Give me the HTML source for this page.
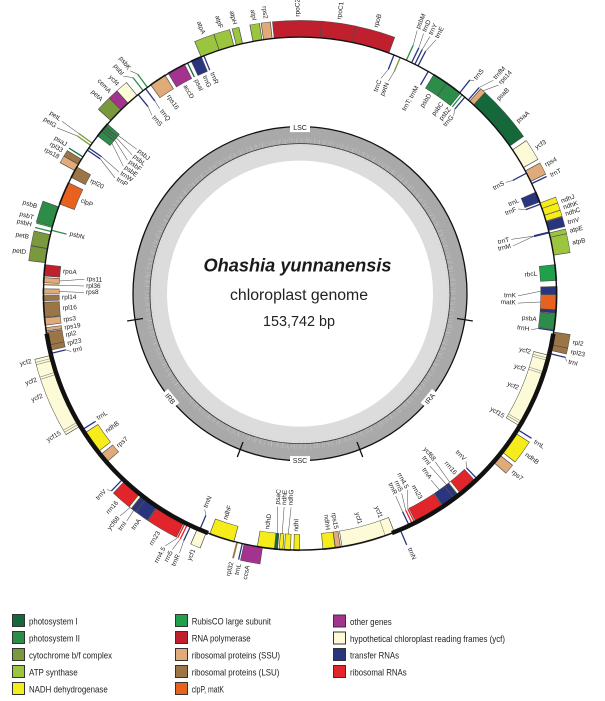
<!DOCTYPE html>
<html><head><meta charset="utf-8"><title>Ohashia yunnanensis chloroplast genome</title>
<style>
html,body{margin:0;padding:0;background:#fff;overflow:hidden}
svg{display:block}
.b{fill:none;stroke-width:16}
.u{fill:none;stroke:#4d4d4d;stroke-width:17}
.A{stroke:#14683a}.B{stroke:#2b8d47}.C{stroke:#7a983c}.D{stroke:#9bc43f}.E{stroke:#f7ec1b}.F{stroke:#20a04b}.G{stroke:#c0202e}.H{stroke:#e0ab78}.I{stroke:#9b7545}.J{stroke:#e8621f}.K{stroke:#a3338f}.L{stroke:#fdfbd7}.M{stroke:#2a3580}.N{stroke:#e2242b}
.fA{fill:#14683a}.fB{fill:#2b8d47}.fC{fill:#7a983c}.fD{fill:#9bc43f}.fE{fill:#f7ec1b}.fI{fill:#9b7545}.fM{fill:#2a3580}.fN{fill:#e2242b}
.ld{fill:none;stroke:#444;stroke-width:.5}
.t text{font-family:"Liberation Sans",Arial,sans-serif;font-size:6.5px;fill:#222;dominant-baseline:central}
.ro,.li{text-anchor:start}.ri,.lo{text-anchor:end}
.dv{fill:#8a8a8a}
</style></head><body>
<svg width="605" height="701" viewBox="0 0 605 701" xmlns="http://www.w3.org/2000/svg">
<rect width="605" height="701" fill="#fff"/>
<g transform="translate(300,293.6)">
<!-- GC content ring -->
<circle r="158.5" fill="none" stroke="#a9a9a9" stroke-width="17"/>
<circle r="141.5" fill="none" stroke="#dcdcdc" stroke-width="17"/>
<circle r="152.5" fill="none" stroke="#c2c2c2" stroke-width="5" stroke-dasharray="0.5 2.4 0.3 1.6 0.8 3.1 0.4 1.2 0.6 2.8 0.3 1.9 0.9 2.2 0.4 3.5"/>
<circle r="155" fill="none" stroke="#b8b8b8" stroke-width="3" stroke-dasharray="0.4 4.1 0.6 3.3 0.3 5.1 0.7 2.7"/>
<circle r="148.5" fill="none" stroke="#cdcdcd" stroke-width="3" stroke-dasharray="0.4 3.8 0.6 2.9 0.3 4.6 0.5 3.3"/>
<circle r="167" fill="none" stroke="#111" stroke-width="1.3"/>
<circle r="150" fill="none" stroke="#333" stroke-width="0.8"/>
<g stroke="#111" stroke-width="1.3">
<line x1="0" y1="-159" x2="0" y2="-175" transform="rotate(99)"/>
<line x1="0" y1="-159" x2="0" y2="-175" transform="rotate(159)"/>
<line x1="0" y1="-159" x2="0" y2="-175" transform="rotate(201)"/>
<line x1="0" y1="-159" x2="0" y2="-175" transform="rotate(261)"/>
</g>
<g font-family="Liberation Sans,Arial,sans-serif" font-size="7" fill="#222" text-anchor="middle">
<g transform="translate(0,-166)"><rect x="-10" y="-4.5" width="20" height="9" fill="#fff"/><text y="2.5">LSC</text></g>
<g transform="rotate(129) translate(0,-167) rotate(180)"><rect x="-9" y="-4.5" width="18" height="9" fill="#fff"/><text y="2.5">IRA</text></g>
<g transform="rotate(180) translate(0,-167) rotate(180)"><rect x="-10" y="-4.5" width="20" height="9" fill="#fff"/><text y="2.5">SSC</text></g>
<g transform="rotate(231) translate(0,-167) rotate(180)"><rect x="-9" y="-4.5" width="18" height="9" fill="#fff"/><text y="2.5">IRB</text></g>
</g>

<!-- OUTER GENE BLOCKS (r 257-273) -->
<circle class="u" r="265" stroke-dasharray="15.27 2000" transform="rotate(186.85)"/><circle class="b C" r="265" stroke-dasharray="13.88 2000" transform="rotate(187)"/>
<circle class="u" r="265" stroke-dasharray="15.27 2000" transform="rotate(190.05)"/><circle class="b C" r="265" stroke-dasharray="13.88 2000" transform="rotate(190.2)"/>
<circle class="u" r="265" stroke-dasharray="21.74 2000" transform="rotate(195.15)"/><circle class="b B" r="265" stroke-dasharray="20.35 2000" transform="rotate(195.3)"/>
<circle class="u" r="265" stroke-dasharray="8.33 2000" transform="rotate(208.55)"/><circle class="b H" r="265" stroke-dasharray="6.94 2000" transform="rotate(208.7)"/>
<circle class="u" r="265" stroke-dasharray="6.94 2000" transform="rotate(210.15)"/><circle class="b I" r="265" stroke-dasharray="5.55 2000" transform="rotate(210.3)"/>
<circle class="u" r="265" stroke-dasharray="16.19 2000" transform="rotate(222.35)"/><circle class="b C" r="265" stroke-dasharray="14.80 2000" transform="rotate(222.5)"/>
<circle class="u" r="265" stroke-dasharray="10.64 2000" transform="rotate(225.65)"/><circle class="b K" r="265" stroke-dasharray="9.25 2000" transform="rotate(225.8)"/>
<circle class="u" r="265" stroke-dasharray="12.95 2000" transform="rotate(227.85)"/><circle class="b L" r="265" stroke-dasharray="11.56 2000" transform="rotate(228)"/>
<circle class="u" r="265" stroke-dasharray="20.82 2000" transform="rotate(247.25)"/><circle class="b D" r="265" stroke-dasharray="19.43 2000" transform="rotate(247.4)"/>
<circle class="u" r="265" stroke-dasharray="16.65 2000" transform="rotate(251.55)"/><circle class="b D" r="265" stroke-dasharray="15.26 2000" transform="rotate(251.7)"/>
<circle class="u" r="265" stroke-dasharray="7.40 2000" transform="rotate(255.55)"/><circle class="b D" r="265" stroke-dasharray="6.01 2000" transform="rotate(255.7)"/>
<circle class="u" r="265" stroke-dasharray="10.18 2000" transform="rotate(259.35)"/><circle class="b D" r="265" stroke-dasharray="8.79 2000" transform="rotate(259.5)"/>
<circle class="u" r="265" stroke-dasharray="9.72 2000" transform="rotate(261.75)"/><circle class="b H" r="265" stroke-dasharray="8.33 2000" transform="rotate(261.9)"/>
<circle class="u" r="265" stroke-dasharray="48.57 2000" transform="rotate(264.15)"/><circle class="b G" r="265" stroke-dasharray="47.18 2000" transform="rotate(264.3)"/>
<circle class="u" r="265" stroke-dasharray="34.23 2000" transform="rotate(-85.55)"/><circle class="b G" r="265" stroke-dasharray="32.84 2000" transform="rotate(-85.4)"/>
<circle class="u" r="265" stroke-dasharray="40.24 2000" transform="rotate(-78.35)"/><circle class="b G" r="265" stroke-dasharray="38.85 2000" transform="rotate(-78.2)"/>
<circle class="u" r="265" stroke-dasharray="6.48 2000" transform="rotate(-48.65)"/><circle class="b H" r="265" stroke-dasharray="5.09 2000" transform="rotate(-48.5)"/>
<circle class="u" r="265" stroke-dasharray="28.22 2000" transform="rotate(-47.45)"/><circle class="b A" r="265" stroke-dasharray="26.83 2000" transform="rotate(-47.3)"/>
<circle class="u" r="265" stroke-dasharray="30.07 2000" transform="rotate(-41.55)"/><circle class="b A" r="265" stroke-dasharray="28.68 2000" transform="rotate(-41.4)"/>
<circle class="u" r="265" stroke-dasharray="22.2 2000" transform="rotate(-34.15)"/><circle class="b L" r="265" stroke-dasharray="20.81 2000" transform="rotate(-34)"/>
<circle class="u" r="265" stroke-dasharray="12.95 2000" transform="rotate(-28.65)"/><circle class="b H" r="265" stroke-dasharray="11.56 2000" transform="rotate(-28.5)"/>
<circle class="u" r="265" stroke-dasharray="6.94 2000" transform="rotate(-20.75)"/><circle class="b E" r="265" stroke-dasharray="5.55 2000" transform="rotate(-20.6)"/>
<circle class="u" r="265" stroke-dasharray="8.33 2000" transform="rotate(-19.45)"/><circle class="b E" r="265" stroke-dasharray="6.94 2000" transform="rotate(-19.3)"/>
<circle class="u" r="265" stroke-dasharray="6.94 2000" transform="rotate(-17.85)"/><circle class="b E" r="265" stroke-dasharray="5.55 2000" transform="rotate(-17.7)"/>
<circle class="u" r="265" stroke-dasharray="10.18 2000" transform="rotate(-16.35)"/><circle class="b M" r="265" stroke-dasharray="8.79 2000" transform="rotate(-16.2)"/>
<circle class="u" r="265" stroke-dasharray="5.55 2000" transform="rotate(-13.75)"/><circle class="b D" r="265" stroke-dasharray="4.16 2000" transform="rotate(-13.6)"/>
<circle class="u" r="265" stroke-dasharray="19.43 2000" transform="rotate(-12.75)"/><circle class="b D" r="265" stroke-dasharray="18.04 2000" transform="rotate(-12.6)"/>
<circle class="u" r="265" stroke-dasharray="14.34 2000" transform="rotate(8.55)"/><circle class="b I" r="265" stroke-dasharray="12.95 2000" transform="rotate(8.7)"/>
<circle class="u" r="265" stroke-dasharray="6.48 2000" transform="rotate(11.45)"/><circle class="b I" r="265" stroke-dasharray="5.09 2000" transform="rotate(11.6)"/>
<circle class="u" r="265" stroke-dasharray="24.52 2000" transform="rotate(32.85)"/><circle class="b E" r="265" stroke-dasharray="23.13 2000" transform="rotate(33)"/>
<circle class="u" r="265" stroke-dasharray="10.64 2000" transform="rotate(38.85)"/><circle class="b H" r="265" stroke-dasharray="9.25 2000" transform="rotate(39)"/>
<circle class="u" r="265" stroke-dasharray="19.89 2000" transform="rotate(98.35)"/><circle class="b K" r="265" stroke-dasharray="18.50 2000" transform="rotate(98.5)"/>
<circle class="u" r="265" stroke-dasharray="10.64 2000" transform="rotate(111.35)"/><circle class="b L" r="265" stroke-dasharray="9.25 2000" transform="rotate(111.5)"/>
<circle class="u" r="265" stroke-dasharray="32.38 2000" transform="rotate(116.85)"/><circle class="b N" r="265" stroke-dasharray="30.99 2000" transform="rotate(117)"/>
<circle class="u" r="265" stroke-dasharray="14.34 2000" transform="rotate(123.85)"/><circle class="b M" r="265" stroke-dasharray="12.95 2000" transform="rotate(124)"/>
<circle class="u" r="265" stroke-dasharray="6.02 2000" transform="rotate(126.85)"/><circle class="b M" r="265" stroke-dasharray="4.63 2000" transform="rotate(127)"/>
<circle class="u" r="265" stroke-dasharray="3.7 2000" transform="rotate(128.05)"/><circle class="b L" r="265" stroke-dasharray="2.31 2000" transform="rotate(128.2)"/>
<circle class="u" r="265" stroke-dasharray="20.82 2000" transform="rotate(128.65)"/><circle class="b N" r="265" stroke-dasharray="19.43 2000" transform="rotate(128.8)"/>
<circle class="u" r="265" stroke-dasharray="80.02 2000" transform="rotate(148.85)"/><circle class="b L" r="265" stroke-dasharray="78.63 2000" transform="rotate(149)"/>

<!-- INNER GENE BLOCKS (r 241-257) -->
<circle class="u" r="249" stroke-dasharray="23.03 2000" transform="rotate(200.35)"/><circle class="b J" r="249" stroke-dasharray="21.73 2000" transform="rotate(200.5)"/>
<circle class="u" r="249" stroke-dasharray="12.16 2000" transform="rotate(206.85)"/><circle class="b I" r="249" stroke-dasharray="10.86 2000" transform="rotate(207)"/>
<circle class="u" r="249" stroke-dasharray="6.95 2000" transform="rotate(217.85)"/><circle class="b B" r="249" stroke-dasharray="5.65 2000" transform="rotate(218)"/>
<circle class="u" r="249" stroke-dasharray="3.04 2000" transform="rotate(219.35)"/><circle class="b B" r="249" stroke-dasharray="1.74 2000" transform="rotate(219.5)"/>
<circle class="u" r="249" stroke-dasharray="3.04 2000" transform="rotate(219.95)"/><circle class="b B" r="249" stroke-dasharray="1.74 2000" transform="rotate(220.1)"/>
<circle class="u" r="249" stroke-dasharray="3.91 2000" transform="rotate(220.55)"/><circle class="b B" r="249" stroke-dasharray="2.61 2000" transform="rotate(220.7)"/>
<circle class="u" r="249" stroke-dasharray="17.38 2000" transform="rotate(234.35)"/><circle class="b H" r="249" stroke-dasharray="16.08 2000" transform="rotate(234.5)"/>
<circle class="u" r="249" stroke-dasharray="18.68 2000" transform="rotate(239.05)"/><circle class="b K" r="249" stroke-dasharray="17.38 2000" transform="rotate(239.2)"/>
<circle class="u" r="249" stroke-dasharray="11.3 2000" transform="rotate(244.85)"/><circle class="b M" r="249" stroke-dasharray="10.0 2000" transform="rotate(245)"/>
<circle class="u" r="249" stroke-dasharray="15.64 2000" transform="rotate(-58.65)"/><circle class="b B" r="249" stroke-dasharray="14.34 2000" transform="rotate(-58.5)"/>
<circle class="u" r="249" stroke-dasharray="17.38 2000" transform="rotate(-55.25)"/><circle class="b B" r="249" stroke-dasharray="16.08 2000" transform="rotate(-55.1)"/>
<circle class="u" r="249" stroke-dasharray="10.86 2000" transform="rotate(-23.35)"/><circle class="b M" r="249" stroke-dasharray="9.56 2000" transform="rotate(-23.2)"/>
<circle class="u" r="249" stroke-dasharray="16.08 2000" transform="rotate(-6.55)"/><circle class="b F" r="249" stroke-dasharray="14.78 2000" transform="rotate(-6.4)"/>
<circle class="u" r="249" stroke-dasharray="9.12 2000" transform="rotate(-1.65)"/><circle class="b M" r="249" stroke-dasharray="7.82 2000" transform="rotate(-1.5)"/>
<circle class="u" r="249" stroke-dasharray="16.08 2000" transform="rotate(0.15)"/><circle class="b J" r="249" stroke-dasharray="14.78 2000" transform="rotate(0.3)"/>
<circle class="u" r="249" stroke-dasharray="3.91 2000" transform="rotate(3.55)"/><circle class="b M" r="249" stroke-dasharray="2.61 2000" transform="rotate(3.7)"/>
<circle class="u" r="249" stroke-dasharray="16.08 2000" transform="rotate(4.45)"/><circle class="b B" r="249" stroke-dasharray="14.78 2000" transform="rotate(4.6)"/>
<circle class="u" r="249" stroke-dasharray="75.18 2000" transform="rotate(13.85)"/><circle class="b L" r="249" stroke-dasharray="73.88 2000" transform="rotate(14)"/>
<circle class="u" r="249" stroke-dasharray="19.99 2000" transform="rotate(46.85)"/><circle class="b N" r="249" stroke-dasharray="18.69 2000" transform="rotate(47)"/>
<circle class="u" r="249" stroke-dasharray="3.47 2000" transform="rotate(51.15)"/><circle class="b L" r="249" stroke-dasharray="2.17 2000" transform="rotate(51.3)"/>
<circle class="u" r="249" stroke-dasharray="5.65 2000" transform="rotate(51.85)"/><circle class="b M" r="249" stroke-dasharray="4.35 2000" transform="rotate(52)"/>
<circle class="u" r="249" stroke-dasharray="13.47 2000" transform="rotate(53.05)"/><circle class="b M" r="249" stroke-dasharray="12.17 2000" transform="rotate(53.2)"/>
<circle class="u" r="249" stroke-dasharray="30.42 2000" transform="rotate(56.15)"/><circle class="b N" r="249" stroke-dasharray="29.12 2000" transform="rotate(56.3)"/>
<circle class="u" r="249" stroke-dasharray="53.45 2000" transform="rotate(68.35)"/><circle class="b L" r="249" stroke-dasharray="52.15 2000" transform="rotate(68.5)"/>
<circle class="u" r="249" stroke-dasharray="5.65 2000" transform="rotate(80.85)"/><circle class="b H" r="249" stroke-dasharray="4.35 2000" transform="rotate(81)"/>
<circle class="u" r="249" stroke-dasharray="12.6 2000" transform="rotate(82.05)"/><circle class="b E" r="249" stroke-dasharray="11.30 2000" transform="rotate(82.2)"/>
<circle class="u" r="249" stroke-dasharray="6.08 2000" transform="rotate(90.05)"/><circle class="b E" r="249" stroke-dasharray="4.78 2000" transform="rotate(90.2)"/>
<circle class="u" r="249" stroke-dasharray="6.52 2000" transform="rotate(92.05)"/><circle class="b E" r="249" stroke-dasharray="5.22 2000" transform="rotate(92.2)"/>
<circle class="u" r="249" stroke-dasharray="4.34 2000" transform="rotate(93.75)"/><circle class="b E" r="249" stroke-dasharray="3.04 2000" transform="rotate(93.9)"/>
<circle class="u" r="249" stroke-dasharray="3.91 2000" transform="rotate(94.95)"/><circle class="b A" r="249" stroke-dasharray="2.61 2000" transform="rotate(95.1)"/>
<circle class="u" r="249" stroke-dasharray="17.38 2000" transform="rotate(95.65)"/><circle class="b E" r="249" stroke-dasharray="16.08 2000" transform="rotate(95.8)"/>
<circle class="u" r="249" stroke-dasharray="25.2 2000" transform="rotate(104.85)"/><circle class="b E" r="249" stroke-dasharray="23.90 2000" transform="rotate(105)"/>
<circle class="u" r="249" stroke-dasharray="9.99 2000" transform="rotate(138.85)"/><circle class="b H" r="249" stroke-dasharray="8.69 2000" transform="rotate(139)"/>
<circle class="u" r="249" stroke-dasharray="23.03 2000" transform="rotate(141.85)"/><circle class="b E" r="249" stroke-dasharray="21.73 2000" transform="rotate(142)"/>
<circle class="u" r="249" stroke-dasharray="6.08 2000" transform="rotate(167.15)"/><circle class="b I" r="249" stroke-dasharray="4.78 2000" transform="rotate(167.3)"/>
<circle class="u" r="249" stroke-dasharray="13.47 2000" transform="rotate(168.35)"/><circle class="b I" r="249" stroke-dasharray="12.17 2000" transform="rotate(168.5)"/>
<circle class="u" r="249" stroke-dasharray="3.91 2000" transform="rotate(171.55)"/><circle class="b H" r="249" stroke-dasharray="2.61 2000" transform="rotate(171.7)"/>
<circle class="u" r="249" stroke-dasharray="7.82 2000" transform="rotate(172.85)"/><circle class="b H" r="249" stroke-dasharray="6.52 2000" transform="rotate(173)"/>
<circle class="u" r="249" stroke-dasharray="15.21 2000" transform="rotate(174.65)"/><circle class="b I" r="249" stroke-dasharray="13.91 2000" transform="rotate(174.8)"/>
<circle class="u" r="249" stroke-dasharray="5.65 2000" transform="rotate(178.35)"/><circle class="b I" r="249" stroke-dasharray="4.35 2000" transform="rotate(178.5)"/>
<circle class="u" r="249" stroke-dasharray="5.65 2000" transform="rotate(179.85)"/><circle class="b H" r="249" stroke-dasharray="4.35 2000" transform="rotate(180)"/>
<circle class="u" r="249" stroke-dasharray="5.65 2000" transform="rotate(182.35)"/><circle class="b H" r="249" stroke-dasharray="4.35 2000" transform="rotate(182.5)"/>
<circle class="u" r="249" stroke-dasharray="11.73 2000" transform="rotate(183.85)"/><circle class="b G" r="249" stroke-dasharray="10.43 2000" transform="rotate(184)"/>

<!-- ycf dividers -->
<g class="dv">
<rect x="-.3" y="-257" width=".6" height="16" transform="rotate(104.6)"/>
<rect x="-.3" y="-257" width=".6" height="16" transform="rotate(105.1)"/>
<rect x="-.3" y="-257" width=".6" height="16" transform="rotate(107.8)"/>
<rect x="-.3" y="-257" width=".6" height="16" transform="rotate(108.3)"/>
<rect x="-.3" y="-257" width=".6" height="16" transform="rotate(120.0)"/>
<rect x="-.3" y="-257" width=".6" height="16" transform="rotate(120.5)"/>
<rect x="-.3" y="-257" width=".6" height="16" transform="rotate(160.6)"/>
<rect x="-.3" y="-273" width=".6" height="16" transform="rotate(255.4)"/>
<rect x="-.3" y="-273" width=".6" height="16" transform="rotate(254.9)"/>
<rect x="-.3" y="-273" width=".6" height="16" transform="rotate(252.2)"/>
<rect x="-.3" y="-273" width=".6" height="16" transform="rotate(251.7)"/>
<rect x="-.3" y="-273" width=".6" height="16" transform="rotate(240.0)"/>
<rect x="-.3" y="-273" width=".6" height="16" transform="rotate(239.5)"/>
</g>

<!-- small genes: outer -->
<rect class="fB" x="-.65" y="-273" width="1.3" height="16" transform="rotate(284)"/>
<rect class="fB" x="-.65" y="-273" width="1.3" height="16" transform="rotate(285)"/>
<rect class="fA" x="-.65" y="-273" width="1.3" height="16" transform="rotate(302.2)"/>
<rect class="fC" x="-.65" y="-273" width="1.3" height="16" transform="rotate(305.3)"/>
<rect class="fC" x="-.65" y="-273" width="1.3" height="16" transform="rotate(305.9)"/>
<rect class="fB" x="-.65" y="-273" width="1.3" height="16" transform="rotate(322.3)"/>
<rect class="fB" x="-.65" y="-273" width="1.3" height="16" transform="rotate(323.5)"/>
<rect class="fB" x="-.65" y="-273" width="1.3" height="16" transform="rotate(24.5)"/>
<rect class="fM" x="-.65" y="-273" width="1.3" height="16" transform="rotate(25.8)"/>
<rect class="fM" x="-.65" y="-273" width="1.3" height="16" transform="rotate(26.6)"/>
<rect class="fM" x="-.65" y="-273" width="1.3" height="16" transform="rotate(27.4)"/>
<rect class="fM" x="-.65" y="-273" width="1.3" height="16" transform="rotate(38.5)"/>
<rect class="fM" x="-.65" y="-273" width="1.3" height="16" transform="rotate(41)"/>
<rect class="fM" x="-.65" y="-273" width="1.3" height="16" transform="rotate(64.6)"/>
<rect class="fM" x="-.65" y="-273" width="1.3" height="16" transform="rotate(103.5)"/>
<rect class="fM" x="-.65" y="-273" width="1.3" height="16" transform="rotate(122)"/>
<rect class="fM" x="-.65" y="-273" width="1.3" height="16" transform="rotate(157)"/>
<rect class="fM" x="-.65" y="-273" width="1.3" height="16" transform="rotate(193)"/>
<rect class="fI" x="-.9" y="-273" width="1.8" height="16" transform="rotate(194.2)"/>
<rect class="fM" x="-.65" y="-273" width="1.3" height="16" transform="rotate(205.2)"/>
<rect class="fN" x="-.65" y="-273" width="1.3" height="16" transform="rotate(206)"/>
<rect class="fN" x="-.65" y="-273" width="1.3" height="16" transform="rotate(206.6)"/>
<rect class="fM" x="-.65" y="-273" width="1.3" height="16" transform="rotate(223.7)"/>
<!-- small genes: inner -->
<rect class="fB" x="-.65" y="-257" width="1.3" height="16" transform="rotate(284.3)"/>
<rect class="fM" x="-.65" y="-257" width="1.3" height="16" transform="rotate(304)"/>
<rect class="fM" x="-.65" y="-257" width="1.3" height="16" transform="rotate(304.6)"/>
<rect class="fM" x="-.65" y="-257" width="1.3" height="16" transform="rotate(320.9)"/>
<rect class="fM" x="-.65" y="-257" width="1.3" height="16" transform="rotate(323)"/>
<rect class="fA" x="-.65" y="-257" width="1.3" height="16" transform="rotate(334)"/>
<rect class="fM" x="-.65" y="-257" width="1.3" height="16" transform="rotate(338)"/>
<rect class="fM" x="-.65" y="-257" width="1.3" height="16" transform="rotate(21.5)"/>
<rect class="fC" x="-.65" y="-257" width="1.3" height="16" transform="rotate(23)"/>
<rect class="fM" x="-.65" y="-257" width="1.3" height="16" transform="rotate(30)"/>
<rect class="fB" x="-.65" y="-257" width="1.3" height="16" transform="rotate(39.2)"/>
<rect class="fM" x="-.65" y="-257" width="1.3" height="16" transform="rotate(40)"/>
<rect class="fM" x="-.65" y="-257" width="1.3" height="16" transform="rotate(62)"/>
<rect class="fM" x="-.65" y="-257" width="1.3" height="16" transform="rotate(69.6)"/>
<rect class="fM" x="-1" y="-257" width="2" height="16" transform="rotate(76.2)"/>
<rect class="fM" x="-.65" y="-257" width="1.3" height="16" transform="rotate(98.3)"/>
<rect class="fM" x="-.65" y="-257" width="1.3" height="16" transform="rotate(136.3)"/>
<rect class="fN" x="-.65" y="-257" width="1.3" height="16" transform="rotate(153.4)"/>
<rect class="fN" x="-.65" y="-257" width="1.3" height="16" transform="rotate(154)"/>
<rect class="fM" x="-.65" y="-257" width="1.3" height="16" transform="rotate(154.8)"/>
<rect class="fM" x="-.65" y="-257" width="1.3" height="16" transform="rotate(203)"/>
<rect class="fM" x="-.65" y="-257" width="1.3" height="16" transform="rotate(238)"/>
<rect class="fM" x="-.65" y="-257" width="1.3" height="16" transform="rotate(256.5)"/>
<rect class="fI" x="-.65" y="-257" width="1.3" height="16" transform="rotate(272)"/>

<!-- leader lines -->
<g class="ld">
<polyline points="0,-273 -2.5,-288" transform="rotate(24.5)"/>
<polyline points="0,-273 -2.0,-288" transform="rotate(25.8)"/>
<polyline points="0,-273 1.0,-288" transform="rotate(26.6)"/>
<polyline points="0,-273 4.0,-288" transform="rotate(27.4)"/>
<polyline points="0,-273 3.8,-275" transform="rotate(38.5)"/>
<polyline points="0,-273 6.0,-288" transform="rotate(41)"/>
<polyline points="0,-273 7.8,-288" transform="rotate(42.05)"/>
<polyline points="0,-273 3.8,-275" transform="rotate(103.5)"/>
<polyline points="0,-273 -1.5,-286" transform="rotate(205.2)"/>
<polyline points="0,-273 2.5,-286" transform="rotate(206)"/>
<polyline points="0,-273 7.5,-286" transform="rotate(206.6)"/>
<polyline points="0,-273 -1.0,-286" transform="rotate(217.5)"/>
<polyline points="0,-273 2.7,-286" transform="rotate(218.45)"/>
<polyline points="0,-273 4.3,-275" transform="rotate(223.7)"/>
<polyline points="0,-273 -5.1,-294" transform="rotate(305.3)"/>
<polyline points="0,-273 0,-294" transform="rotate(305.9)"/>
<polyline points="0,-273 -6.8,-280" transform="rotate(322.3)"/>
<polyline points="0,-273 -3.9,-280" transform="rotate(323.5)"/>
<polyline points="0,-241 -7.6,-217.9" transform="rotate(304)"/>
<polyline points="0,-241 -2.7,-218" transform="rotate(304.6)"/>
<polyline points="0,-241 -10.8,-217.7" transform="rotate(308.65)"/>
<polyline points="0,-241 -7.6,-217.9" transform="rotate(309.7)"/>
<polyline points="0,-241 -2.7,-218" transform="rotate(310.3)"/>
<polyline points="0,-241 1.9,-218" transform="rotate(311)"/>
<polyline points="0,-241 -2.4,-232" transform="rotate(320.9)"/>
<polyline points="0,-241 -0.8,-232" transform="rotate(323)"/>
<polyline points="0,-241 -3.6,-230" transform="rotate(21.5)"/>
<polyline points="0,-241 -1.6,-230" transform="rotate(23)"/>
<polyline points="0,-241 3.3,-235" transform="rotate(40)"/>
<polyline points="0,-241 -1.6,-234" transform="rotate(62)"/>
<polyline points="0,-241 -3.3,-234" transform="rotate(69.6)"/>
<polyline points="0,-241 -2.3,-218" transform="rotate(76.2)"/>
<polyline points="0,-241 4.6,-218" transform="rotate(76.2)"/>
<polyline points="0,-241 4.6,-218" transform="rotate(89.4)"/>
<polyline points="0,-241 1.9,-218" transform="rotate(92)"/>
<polyline points="0,-241 2.4,-234" transform="rotate(98.3)"/>
<polyline points="0,-241 -4.1,-236" transform="rotate(136.3)"/>
<polyline points="0,-241 -1.3,-216" transform="rotate(141.55)"/>
<polyline points="0,-241 1.9,-216" transform="rotate(142.5)"/>
<polyline points="0,-241 1.2,-228" transform="rotate(144.6)"/>
<polyline points="0,-241 -8.2,-223.8" transform="rotate(153.4)"/>
<polyline points="0,-241 -3.9,-224" transform="rotate(154)"/>
<polyline points="0,-241 -0.4,-224" transform="rotate(154.8)"/>
<polyline points="0,-241 -1.5,-214" transform="rotate(182.8)"/>
<polyline points="0,-241 0,-214" transform="rotate(184.25)"/>
<polyline points="0,-241 2.2,-214" transform="rotate(185.4)"/>
<polyline points="0,-241 3.3,-236" transform="rotate(203)"/>
<polyline points="0,-241 -2.9,-236" transform="rotate(256.5)"/>
<polyline points="0,-241 -0.8,-216" transform="rotate(270.5)"/>
<polyline points="0,-241 0,-216" transform="rotate(272)"/>
<polyline points="0,-241 3.0,-216" transform="rotate(273)"/>
</g>

<!-- main ring -->
<circle r="256.5" fill="none" stroke="#111" stroke-width="1.4"/>
<circle r="256.5" fill="none" stroke="#111" stroke-width="4.5" stroke-dasharray="268.6 2000" transform="rotate(9)"/>
<circle r="256.5" fill="none" stroke="#111" stroke-width="4.5" stroke-dasharray="268.6 2000" transform="rotate(111)"/>

<!-- gene labels -->
<g class="t">
<!-- right outer -->
<text class="ro" transform="rotate(359.6) translate(0,-277) rotate(-90)">rpoC2</text>
<text class="ro" transform="rotate(8.2) translate(0,-277) rotate(-90)">rpoC1</text>
<text class="ro" transform="rotate(16) translate(0,-277) rotate(-90)">rpoB</text>
<text class="ro" transform="rotate(24) translate(0,-290) rotate(-90)">psbM</text>
<text class="ro" transform="rotate(25.4) translate(0,-290) rotate(-90)">trnD</text>
<text class="ro" transform="rotate(26.8) translate(0,-290) rotate(-90)">trnY</text>
<text class="ro" transform="rotate(28.2) translate(0,-290) rotate(-90)">trnE</text>
<text class="ro" transform="rotate(39.3) translate(0,-277) rotate(-90)">trnS</text>
<text class="ro" transform="rotate(42.2) translate(0,-290) rotate(-90)">trnfM</text>
<text class="ro" transform="rotate(43.6) translate(0,-290) rotate(-90)">rps14</text>
<text class="ro" transform="rotate(45.6) translate(0,-277) rotate(-90)">psaB</text>
<text class="ro" transform="rotate(51.7) translate(0,-277) rotate(-90)">psaA</text>
<text class="ro" transform="rotate(58.3) translate(0,-277) rotate(-90)">ycf3</text>
<text class="ro" transform="rotate(62.4) translate(0,-277) rotate(-90)">rps4</text>
<text class="ro" transform="rotate(64.8) translate(0,-277) rotate(-90)">trnT</text>
<text class="ro" transform="rotate(70.6) translate(0,-277) rotate(-90)">ndhJ</text>
<text class="ro" transform="rotate(72) translate(0,-277) rotate(-90)">ndhK</text>
<text class="ro" transform="rotate(73.4) translate(0,-277) rotate(-90)">ndhC</text>
<text class="ro" transform="rotate(75.2) translate(0,-277) rotate(-90)">trnV</text>
<text class="ro" transform="rotate(77) translate(0,-277) rotate(-90)">atpE</text>
<text class="ro" transform="rotate(79.5) translate(0,-277) rotate(-90)">atpB</text>
<text class="ro" transform="rotate(100.2) translate(0,-277) rotate(-90)">rpl2</text>
<text class="ro" transform="rotate(102.2) translate(0,-277) rotate(-90)">rpl23</text>
<text class="ro" transform="rotate(104.3) translate(0,-277) rotate(-90)">trnI</text>
<text class="ro" transform="rotate(122.3) translate(0,-277) rotate(-90)">trnL</text>
<text class="ro" transform="rotate(125.5) translate(0,-277) rotate(-90)">ndhB</text>
<text class="ro" transform="rotate(130) translate(0,-277) rotate(-90)">rps7</text>
<text class="ro" transform="rotate(156.8) translate(0,-277) rotate(-90)">trnN</text>
<!-- right inner -->
<text class="ri" transform="rotate(20.6) translate(0,-228) rotate(-90)">trnC</text>
<text class="ri" transform="rotate(22.6) translate(0,-228) rotate(-90)">petN</text>
<text class="ri" transform="rotate(29.6) translate(0,-238) rotate(-90)">trnT; trnM</text>
<text class="ri" transform="rotate(33.2) translate(0,-238) rotate(-90)">psbD</text>
<text class="ri" transform="rotate(36.8) translate(0,-238) rotate(-90)">psbC</text>
<text class="ri" transform="rotate(39) translate(0,-238) rotate(-90)">psbZ</text>
<text class="ri" transform="rotate(40.8) translate(0,-234) rotate(-90)">trnG</text>
<text class="ri" transform="rotate(61.6) translate(0,-232) rotate(-90)">trnS</text>
<text class="ri" transform="rotate(67) translate(0,-238) rotate(-90)">trnL</text>
<text class="ri" transform="rotate(68.8) translate(0,-232) rotate(-90)">trnF</text>
<text class="ri" transform="rotate(75.6) translate(0,-216) rotate(-90)">trnT</text>
<text class="ri" transform="rotate(77.4) translate(0,-216) rotate(-90)">trnM</text>
<text class="ri" transform="rotate(85.3) translate(0,-238) rotate(-90)">rbcL</text>
<text class="ri" transform="rotate(90.6) translate(0,-216) rotate(-90)">trnK</text>
<text class="ri" transform="rotate(92.5) translate(0,-216) rotate(-90)">matK</text>
<text class="ri" transform="rotate(96.3) translate(0,-238) rotate(-90)">psbA</text>
<text class="ri" transform="rotate(98.9) translate(0,-232) rotate(-90)">trnH</text>
<text class="ri" transform="rotate(104.3) translate(0,-238) rotate(-90)">ycf2</text>
<text class="ri" transform="rotate(108.7) translate(0,-238) rotate(-90)">ycf2</text>
<text class="ri" transform="rotate(113.5) translate(0,-238) rotate(-90)">ycf2</text>
<text class="ri" transform="rotate(121.2) translate(0,-238) rotate(-90)">ycf15</text>
<text class="ri" transform="rotate(135.3) translate(0,-234) rotate(-90)">trnV</text>
<text class="ri" transform="rotate(139.3) translate(0,-238) rotate(-90)">rrn16</text>
<text class="ri" transform="rotate(141.2) translate(0,-214) rotate(-90)">ycf68</text>
<text class="ri" transform="rotate(143) translate(0,-214) rotate(-90)">trnI</text>
<text class="ri" transform="rotate(144.9) translate(0,-226) rotate(-90)">trnA</text>
<text class="ri" transform="rotate(149.6) translate(0,-238) rotate(-90)">rrn23</text>
<text class="ri" transform="rotate(151.3) translate(0,-222) rotate(-90)">rrn4.5</text>
<text class="ri" transform="rotate(153) translate(0,-222) rotate(-90)">rrn5</text>
<text class="ri" transform="rotate(154.7) translate(0,-222) rotate(-90)">trnR</text>
<text class="ri" transform="rotate(160.3) translate(0,-238) rotate(-90)">ycf1</text>
<text class="ri" transform="rotate(165.5) translate(0,-238) rotate(-90)">ycf1</text>
<text class="ri" transform="rotate(171.4) translate(0,-238) rotate(-90)">rps15</text>
<text class="ri" transform="rotate(173.4) translate(0,-238) rotate(-90)">ndhH</text>
<!-- left outer -->
<text class="lo" transform="rotate(190.8) translate(0,-277) rotate(90)">ccsA</text>
<text class="lo" transform="rotate(192.6) translate(0,-277) rotate(90)">trnL</text>
<text class="lo" transform="rotate(194.2) translate(0,-277) rotate(90)">rpl32</text>
<text class="lo" transform="rotate(202.5) translate(0,-277) rotate(90)">ycf1</text>
<text class="lo" transform="rotate(204.9) translate(0,-288) rotate(90)">trnR</text>
<text class="lo" transform="rotate(206.5) translate(0,-288) rotate(90)">rrn5</text>
<text class="lo" transform="rotate(208.1) translate(0,-288) rotate(90)">rrn4.5</text>
<text class="lo" transform="rotate(210.6) translate(0,-277) rotate(90)">rrn23</text>
<text class="lo" transform="rotate(215.3) translate(0,-277) rotate(90)">trnA</text>
<text class="lo" transform="rotate(217.3) translate(0,-288) rotate(90)">trnI</text>
<text class="lo" transform="rotate(219) translate(0,-288) rotate(90)">ycf68</text>
<text class="lo" transform="rotate(221.2) translate(0,-277) rotate(90)">rrn16</text>
<text class="lo" transform="rotate(224.6) translate(0,-277) rotate(90)">trnV</text>
<text class="lo" transform="rotate(239.8) translate(0,-277) rotate(90)">ycf15</text>
<text class="lo" transform="rotate(248.3) translate(0,-277) rotate(90)">ycf2</text>
<text class="lo" transform="rotate(251.8) translate(0,-277) rotate(90)">ycf2</text>
<text class="lo" transform="rotate(255.8) translate(0,-277) rotate(90)">ycf2</text>
<text class="lo" transform="rotate(278.5) translate(0,-277) rotate(90)">petD</text>
<text class="lo" transform="rotate(281.7) translate(0,-277) rotate(90)">petB</text>
<text class="lo" transform="rotate(284.3) translate(0,-277) rotate(90)">psbH</text>
<text class="lo" transform="rotate(285.8) translate(0,-277) rotate(90)">psbT</text>
<text class="lo" transform="rotate(288.2) translate(0,-277) rotate(90)">psbB</text>
<text class="lo" transform="rotate(299.4) translate(0,-277) rotate(90)">rps18</text>
<text class="lo" transform="rotate(300.9) translate(0,-277) rotate(90)">rpl33</text>
<text class="lo" transform="rotate(302.4) translate(0,-277) rotate(90)">psaJ</text>
<text class="lo" transform="rotate(304.3) translate(0,-296) rotate(90)">petG</text>
<text class="lo" transform="rotate(305.9) translate(0,-296) rotate(90)">petL</text>
<text class="lo" transform="rotate(314.2) translate(0,-277) rotate(90)">petA</text>
<text class="lo" transform="rotate(316.6) translate(0,-277) rotate(90)">cemA</text>
<text class="lo" transform="rotate(318.8) translate(0,-277) rotate(90)">ycf4</text>
<text class="lo" transform="rotate(320.9) translate(0,-282) rotate(90)">psbI</text>
<text class="lo" transform="rotate(322.7) translate(0,-282) rotate(90)">psbK</text>
<text class="lo" transform="rotate(339.5) translate(0,-277) rotate(90)">atpA</text>
<text class="lo" transform="rotate(343.3) translate(0,-277) rotate(90)">atpF</text>
<text class="lo" transform="rotate(346.3) translate(0,-277) rotate(90)">atpH</text>
<text class="lo" transform="rotate(350.4) translate(0,-277) rotate(90)">atpI</text>
<text class="lo" transform="rotate(352.8) translate(0,-277) rotate(90)">rps2</text>
<!-- left inner -->
<text class="li" transform="rotate(180.8) translate(0,-238) rotate(90)">ndhI</text>
<text class="li" transform="rotate(182.4) translate(0,-212) rotate(90)">ndhG</text>
<text class="li" transform="rotate(184.2) translate(0,-212) rotate(90)">ndhE</text>
<text class="li" transform="rotate(186) translate(0,-212) rotate(90)">psaC</text>
<text class="li" transform="rotate(187.8) translate(0,-238) rotate(90)">ndhD</text>
<text class="li" transform="rotate(198.2) translate(0,-238) rotate(90)">ndhF</text>
<text class="li" transform="rotate(203.8) translate(0,-234) rotate(90)">trnN</text>
<text class="li" transform="rotate(230) translate(0,-238) rotate(90)">rps7</text>
<text class="li" transform="rotate(234.5) translate(0,-238) rotate(90)">ndhB</text>
<text class="li" transform="rotate(238.3) translate(0,-238) rotate(90)">trnL</text>
<text class="li" transform="rotate(255.8) translate(0,-234) rotate(90)">trnI</text>
<text class="li" transform="rotate(257.8) translate(0,-238) rotate(90)">rpl23</text>
<text class="li" transform="rotate(259.9) translate(0,-238) rotate(90)">rpl2</text>
<text class="li" transform="rotate(261.7) translate(0,-238) rotate(90)">rps19</text>
<text class="li" transform="rotate(263.6) translate(0,-238) rotate(90)">rps3</text>
<text class="li" transform="rotate(266.4) translate(0,-238) rotate(90)">rpl16</text>
<text class="li" transform="rotate(269) translate(0,-238) rotate(90)">rpl14</text>
<text class="li" transform="rotate(270.3) translate(0,-214) rotate(90)">rps8</text>
<text class="li" transform="rotate(272) translate(0,-214) rotate(90)">rpl36</text>
<text class="li" transform="rotate(273.8) translate(0,-214) rotate(90)">rps11</text>
<text class="li" transform="rotate(275.3) translate(0,-238) rotate(90)">rpoA</text>
<text class="li" transform="rotate(284.5) translate(0,-238) rotate(90)">psbN</text>
<text class="li" transform="rotate(293) translate(0,-238) rotate(90)">clpP</text>
<text class="li" transform="rotate(298.3) translate(0,-238) rotate(90)">rpl20</text>
<text class="li" transform="rotate(302) translate(0,-216) rotate(90)">trnP</text>
<text class="li" transform="rotate(303.9) translate(0,-216) rotate(90)">trnW</text>
<text class="li" transform="rotate(305.8) translate(0,-216) rotate(90)">psbE</text>
<text class="li" transform="rotate(307.7) translate(0,-216) rotate(90)">psbF</text>
<text class="li" transform="rotate(309.6) translate(0,-216) rotate(90)">psbL</text>
<text class="li" transform="rotate(311.5) translate(0,-216) rotate(90)">psbJ</text>
<text class="li" transform="rotate(320.3) translate(0,-230) rotate(90)">trnS</text>
<text class="li" transform="rotate(322.8) translate(0,-230) rotate(90)">trnQ</text>
<text class="li" transform="rotate(326.3) translate(0,-238) rotate(90)">rps16</text>
<text class="li" transform="rotate(331) translate(0,-238) rotate(90)">accD</text>
<text class="li" transform="rotate(334) translate(0,-238) rotate(90)">psaI</text>
<text class="li" transform="rotate(336.2) translate(0,-238) rotate(90)">trnG</text>
<text class="li" transform="rotate(338.2) translate(0,-238) rotate(90)">trnR</text>
</g>
</g>

<!-- centre text -->
<g font-family="Liberation Sans,Arial,sans-serif" text-anchor="middle">
<text x="297.5" y="271.7" font-size="18.7" font-weight="bold" font-style="italic" fill="#1a1a1a" textLength="188" lengthAdjust="spacingAndGlyphs">Ohashia yunnanensis</text>
<text x="299" y="300" font-size="15.5" fill="#222" textLength="138" lengthAdjust="spacingAndGlyphs">chloroplast genome</text>
<text x="299" y="326" font-size="14.3" fill="#222" textLength="72" lengthAdjust="spacingAndGlyphs">153,742 bp</text>
</g>

<!-- legend -->
<g font-family="Liberation Sans,Arial,sans-serif" font-size="9.3" fill="#222" stroke-width="1">
<rect x="12.5" y="614.5" width="12" height="12" fill="#14683a" stroke="#333"/>
<text x="29" y="624.5" textLength="48.7" lengthAdjust="spacingAndGlyphs">photosystem I</text>
<rect x="12.5" y="631.5" width="12" height="12" fill="#2b8d47" stroke="#333"/>
<text x="29" y="641.5" textLength="51" lengthAdjust="spacingAndGlyphs">photosystem II</text>
<rect x="12.5" y="648.5" width="12" height="12" fill="#7a983c" stroke="#333"/>
<text x="29" y="658.5" textLength="83" lengthAdjust="spacingAndGlyphs">cytochrome b/f complex</text>
<rect x="12.5" y="665.5" width="12" height="12" fill="#9bc43f" stroke="#333"/>
<text x="29" y="675.5" textLength="48.7" lengthAdjust="spacingAndGlyphs">ATP synthase</text>
<rect x="12.5" y="682.5" width="12" height="12" fill="#f7ec1b" stroke="#333"/>
<text x="29" y="692.5" textLength="78.7" lengthAdjust="spacingAndGlyphs">NADH dehydrogenase</text>

<rect x="175.5" y="614.5" width="12" height="12" fill="#20a04b" stroke="#333"/>
<text x="191.7" y="624.5" textLength="79.3" lengthAdjust="spacingAndGlyphs">RubisCO large subunit</text>
<rect x="175.5" y="631.5" width="12" height="12" fill="#c0202e" stroke="#333"/>
<text x="191.7" y="641.5" textLength="59" lengthAdjust="spacingAndGlyphs">RNA polymerase</text>
<rect x="175.5" y="648.5" width="12" height="12" fill="#e0ab78" stroke="#333"/>
<text x="191.7" y="658.5" textLength="88.3" lengthAdjust="spacingAndGlyphs">ribosomal proteins (SSU)</text>
<rect x="175.5" y="665.5" width="12" height="12" fill="#9b7545" stroke="#333"/>
<text x="191.7" y="675.5" textLength="87.7" lengthAdjust="spacingAndGlyphs">ribosomal proteins (LSU)</text>
<rect x="175.5" y="682.5" width="12" height="12" fill="#e8621f" stroke="#333"/>
<text x="191.7" y="692.5" textLength="32.3" lengthAdjust="spacingAndGlyphs">clpP, matK</text>

<rect x="333.5" y="615" width="12" height="12" fill="#a3338f" stroke="#333"/>
<text x="350" y="625" textLength="41.7" lengthAdjust="spacingAndGlyphs">other genes</text>
<rect x="333.5" y="632" width="12" height="12" fill="#fdfbd7" stroke="#333"/>
<text x="350" y="642" textLength="155" lengthAdjust="spacingAndGlyphs">hypothetical chloroplast reading frames (ycf)</text>
<rect x="333.5" y="648.5" width="12" height="12" fill="#2a3580" stroke="#333"/>
<text x="350" y="658.5" textLength="49" lengthAdjust="spacingAndGlyphs">transfer RNAs</text>
<rect x="333.5" y="665.5" width="12" height="12" fill="#e2242b" stroke="#333"/>
<text x="350" y="675.5" textLength="56.7" lengthAdjust="spacingAndGlyphs">ribosomal RNAs</text>
</g>
</svg>
</body></html>
